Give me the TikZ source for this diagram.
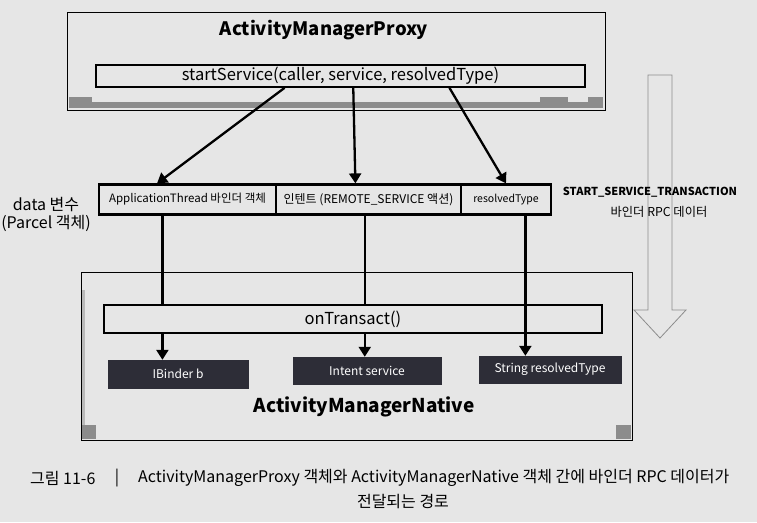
\documentclass[tikz,border=0pt]{standalone}
\usepackage{fontspec}
\setmainfont{Noto Sans CJK KR}
\usetikzlibrary{arrows.meta,calc}
\definecolor{bgc}{RGB}{230,230,230}
\definecolor{darkbox}{RGB}{45,45,55}
\definecolor{shadecol}{RGB}{140,140,140}
\tikzset{
  frame/.style={draw=black,line width=1pt,inner sep=0pt},
  callbox/.style={draw=black,line width=1.7pt,inner sep=0pt},
  cellbox/.style={draw=black,line width=2.2pt,inner sep=0pt},
  darknode/.style={fill=darkbox,draw=darkbox,text=white,inner sep=0pt,font=\fontsize{12}{14}\selectfont},
  conn/.style={line width=2.3pt,-{Triangle[width=12pt,length=10pt]}},
  plain/.style={line width=2.3pt},
  lbl/.style={inner sep=0pt}
}
\begin{document}
\begin{tikzpicture}[x=1pt,y=-1pt]
\useasboundingbox[fill=bgc] (0,0) rectangle (757,522);
% big hollow arrow
\draw[draw=shadecol,line width=0.8pt] (648,75) -- (672,75) -- (672,310) -- (686,310) -- (660,338) -- (634,310) -- (648,310) -- cycle;
% Proxy frame
\node[frame,minimum width=538pt,minimum height=98pt] (proxy) at (336,61) {};
\fill[shadecol] (69,97) rectangle (603,108);
\fill[bgc] (92,92) rectangle (540,102);
\fill[bgc] (568,92) rectangle (588,102);
\node[lbl,font=\fontsize{18.5}{21}\selectfont\bfseries] (ptitle) at (324,30) {ActivityManagerProxy};
\node[callbox,fill=bgc,minimum width=489pt,minimum height=22pt,font=\fontsize{16.5}{18}\selectfont] (start) at (340.5,76) {startService(caller,\ service,\ resolvedType)};
% data cells
\node[cellbox,minimum width=177pt,minimum height=30pt,font=\fontsize{11.5}{13}\selectfont] (c1) at (187.5,199.5) {ApplicationThread\ 바인더 객체};
\node[cellbox,minimum width=185pt,minimum height=30pt,font=\fontsize{12}{14}\selectfont] (c2) at (368.5,199.5) {인텐트 (REMOTE\_SERVICE 액션)};
\node[cellbox,minimum width=90pt,minimum height=30pt,font=\fontsize{10.5}{12}\selectfont] (c3) at (506,199.5) {resolvedType};
\node[lbl,font=\fontsize{16}{18}\selectfont] (dv) at (46,205) {data 변수};
\node[lbl,font=\fontsize{16}{18}\selectfont] (pc) at (46,223) {(Parcel 객체)};
\node[lbl,font=\fontsize{11}{13}\selectfont\bfseries] (sst) at (650,192) {START\_SERVICE\_TRANSACTION};
\node[lbl,font=\fontsize{12.3}{14}\selectfont] (rpc) at (659,212) {바인더 RPC 데이터};
% Native frame
\node[frame,minimum width=551pt,minimum height=168pt] (native) at (356.5,356) {};
\fill[shadecol] (82,425) rectangle (96,439);
\fill[shadecol] (616,425) rectangle (631,439);
\fill[shadecol!60] (82,290) rectangle (85,425);
\node[callbox,minimum width=498pt,minimum height=28pt,font=\fontsize{16.5}{18}\selectfont] (ot) at (353,319) {onTransact()};
\node[darknode,minimum width=140pt,minimum height=28pt] (d1) at (178,374) {IBinder b};
\node[darknode,minimum width=148pt,minimum height=27pt] (d2) at (367,370.5) {Intent service};
\node[darknode,minimum width=142pt,minimum height=27pt] (d3) at (550,369.5) {String resolvedType};
\node[lbl,font=\fontsize{19}{22}\selectfont\bfseries] (ntitle) at (364,407) {ActivityManagerNative};
% connectors from startService to cells
\draw[conn] ($(start.south west)!0.386!(start.south east)$) -- ($(c1.north west)!0.33!(c1.north east)$);
\draw[conn] ($(start.south west)!0.526!(start.south east)$) -- ($(c2.north west)!0.43!(c2.north east)$);
\draw[conn] ($(start.south west)!0.722!(start.south east)$) -- (c3.north);
% cells down to onTransact and targets
\coordinate (x1) at ($(c1.south west)!0.36!(c1.south east)$);
\coordinate (x2) at ($(c2.south west)!0.48!(c2.south east)$);
\coordinate (x3) at ($(c3.south west)!0.71!(c3.south east)$);
\draw[plain] (x1) -- (x1 |- ot.north);
\draw[plain] (x2) -- (x2 |- ot.north);
\draw[conn] (x1 |- ot.south) -- (x1 |- d1.north);
\draw[conn] (x2 |- ot.south) -- (x2 |- d2.north);
\draw[conn] (x3) -- (x3 |- d3.north);
% caption
\node[lbl,anchor=west,font=\fontsize{16}{18}\selectfont] (cap0) at (30,478) {그림 11-6};
\node[lbl,font=\fontsize{16}{18}\selectfont] (capbar) at (117,478) {|};
\node[lbl,anchor=west,font=\fontsize{16}{18}\selectfont] (cap1) at (138,478) {ActivityManagerProxy 객체와 ActivityManagerNative 객체 간에 바인더 RPC 데이터가};
\node[lbl,font=\fontsize{16}{18}\selectfont] (cap2) at (403,502) {전달되는 경로};
\end{tikzpicture}
\end{document}
